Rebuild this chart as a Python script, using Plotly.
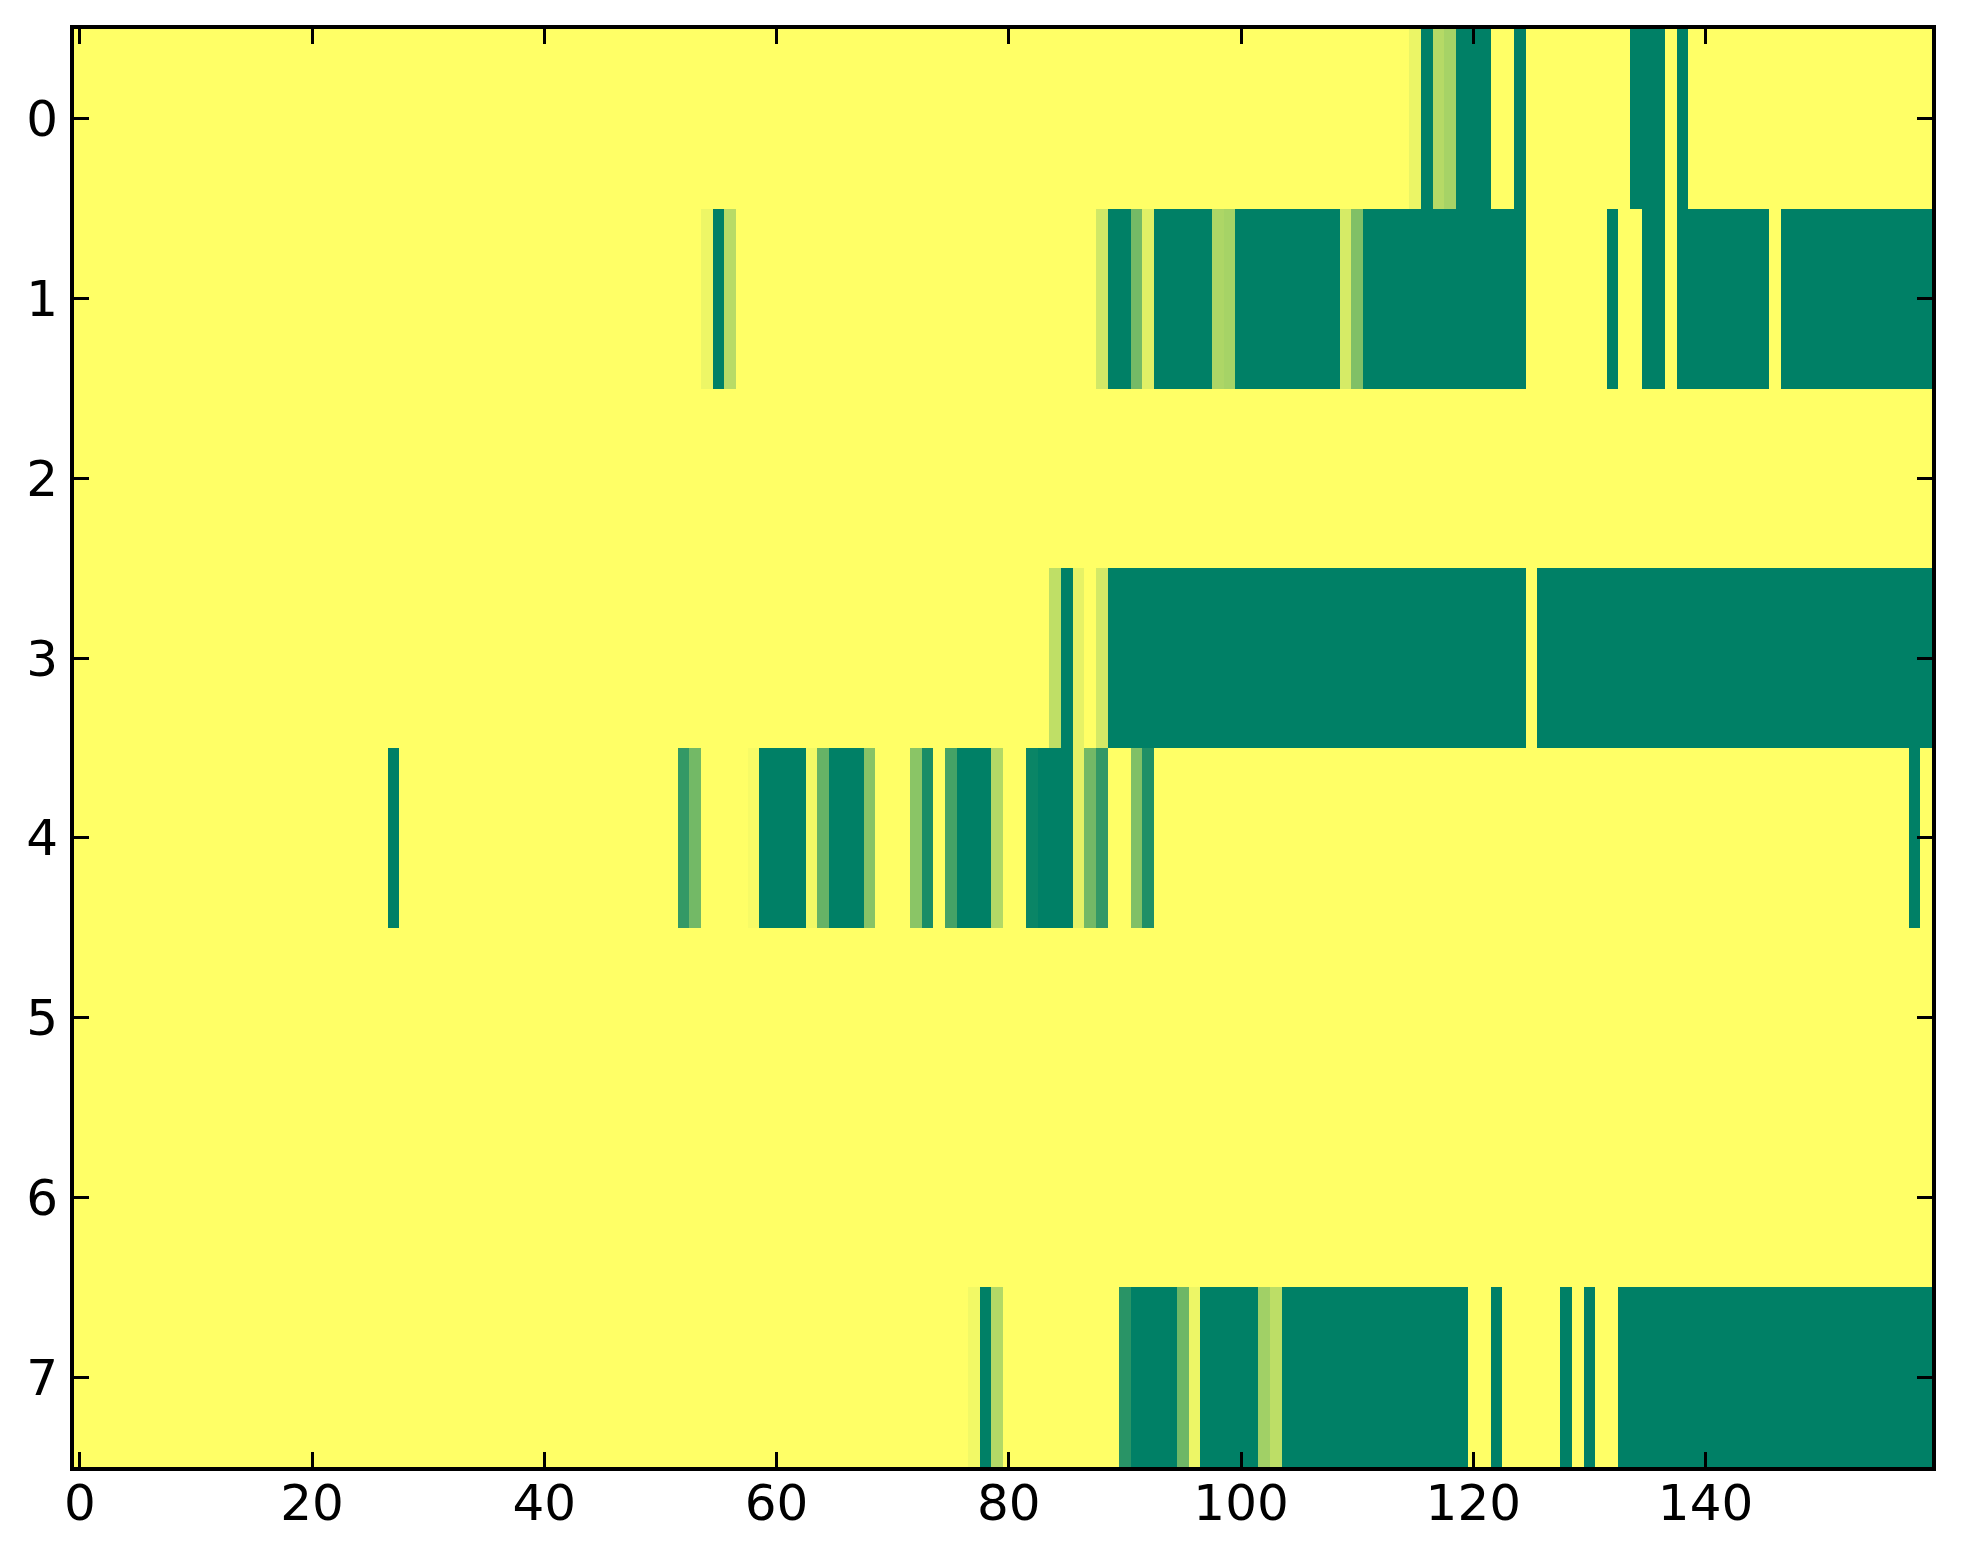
import numpy as np
import plotly.graph_objects as go

# heatmap size: 8 rows x 160 columns, values 0..1
n_rows = 8
n_cols = 160

# non-zero cells per row as (first_col, last_col, value) runs
row_0 = [(115, 115, 0.08), (116, 116, 1), (117, 117, 0.29), (118, 118, 0.35),
         (119, 121, 1), (124, 124, 1), (134, 136, 1), (138, 138, 1)]
row_1 = [(54, 54, 0.07), (55, 55, 1), (56, 56, 0.28),
         (88, 88, 0.18), (89, 90, 1), (91, 91, 0.54), (92, 92, 0.12),
         (93, 97, 1), (98, 98, 0.32), (99, 99, 0.35), (100, 108, 1),
         (109, 109, 0.16), (110, 110, 0.5), (111, 124, 1),
         (132, 132, 1), (135, 136, 1), (138, 145, 1), (147, 159, 1)]
row_2 = []
row_3 = [(84, 84, 0.25), (85, 85, 1), (86, 86, 0.1), (88, 88, 0.17),
         (89, 124, 1), (126, 159, 1)]
row_4 = [(27, 27, 1), (52, 52, 0.8), (53, 53, 0.55), (58, 58, 0.03),
         (59, 62, 1), (63, 63, 0.05), (64, 64, 0.6), (65, 67, 1), (68, 68, 0.47),
         (72, 72, 0.46), (73, 73, 0.9), (75, 75, 0.73), (76, 78, 1),
         (79, 79, 0.3), (82, 82, 0.96), (83, 85, 1), (86, 86, 0.1),
         (87, 87, 0.55), (88, 88, 0.8), (91, 91, 0.5), (92, 92, 0.88),
         (158, 158, 1)]
row_5 = []
row_6 = []
row_7 = [(77, 77, 0.05), (78, 78, 1), (79, 79, 0.3), (90, 90, 0.84),
         (91, 94, 1), (95, 95, 0.57), (96, 96, 0.07), (97, 101, 1),
         (102, 102, 0.37), (103, 103, 0.26), (104, 119, 1), (122, 122, 1),
         (128, 128, 1), (130, 130, 1), (133, 159, 1)]

rows = [row_0, row_1, row_2, row_3, row_4, row_5, row_6, row_7]

z = np.zeros((n_rows, n_cols))
for r, runs in enumerate(rows):
    for a, b, v in runs:
        z[r, a:b + 1] = v

# matplotlib summer_r
summer_r = [[0, 'rgb(255,255,102)'], [1, 'rgb(0,128,102)']]

fig = go.Figure(go.Heatmap(
    z=z,
    x=np.arange(n_cols),
    y=np.arange(n_rows),
    colorscale=summer_r,
    zmin=0, zmax=1,
    showscale=False,
    hoverongaps=False,
))

axis_style = dict(
    showline=True, linecolor='black', linewidth=4, mirror='ticks',
    ticks='inside', ticklen=15, tickwidth=3, tickcolor='black',
    showgrid=False, zeroline=False,
    tickfont=dict(family='DejaVu Sans', size=50, color='black'),
)

# page body has an 8px margin, so the figure is a bit smaller than the window
fig.update_layout(
    width=1947, height=1548,
    margin=dict(l=66, r=23, t=21, b=89),
    paper_bgcolor='white', plot_bgcolor='white',
    xaxis=dict(range=[-0.5, 159.5], tickvals=list(range(0, 160, 20)),
               ticklabelstandoff=-11, **axis_style),
    yaxis=dict(range=[7.5, -0.5], tickvals=list(range(8)),
               ticklabelstandoff=2, **axis_style),
)

fig.write_html("out.html")
